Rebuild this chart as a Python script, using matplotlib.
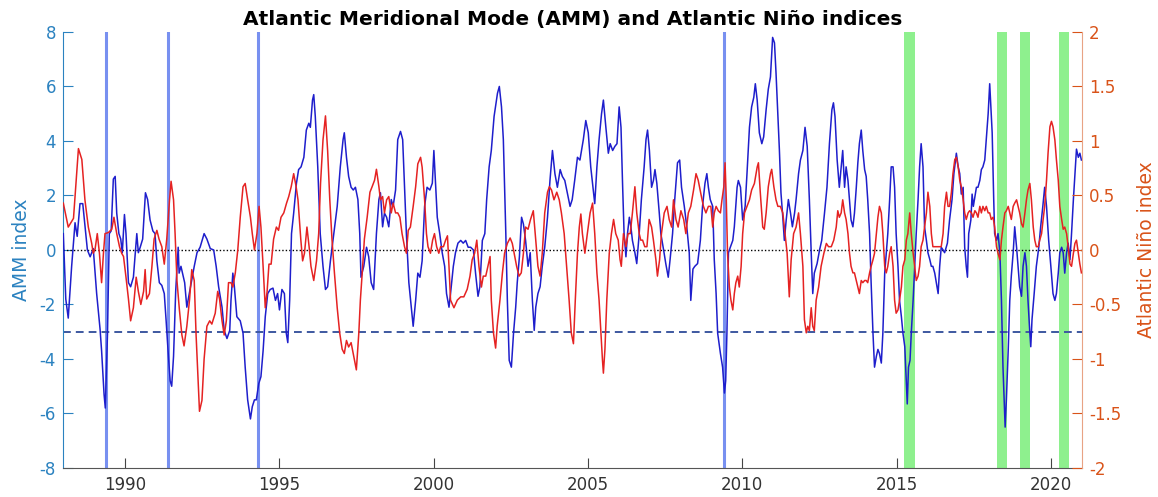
import matplotlib
matplotlib.use("Agg")
import matplotlib.pyplot as plt
import numpy as np

plt.rcParams['axes.unicode_minus'] = False

# AMM index (left axis)
amm_year = [
    1988.01, 1988.09, 1988.17, 1988.28, 1988.39, 1988.46, 1988.55, 1988.64, 1988.79, 1988.88,
    1988.98, 1989.09, 1989.20, 1989.25, 1989.33, 1989.37, 1989.44, 1989.50, 1989.56, 1989.63,
    1989.69, 1989.74, 1989.81, 1989.87, 1989.92, 1989.99, 1990.04, 1990.12, 1990.19, 1990.28,
    1990.39, 1990.44, 1990.50, 1990.58, 1990.67, 1990.74, 1990.82, 1990.91, 1990.98, 1991.04,
    1991.12, 1991.20, 1991.28, 1991.34, 1991.42, 1991.47, 1991.52, 1991.58, 1991.65, 1991.73,
    1991.76, 1991.82, 1991.94, 1992.01, 1992.09, 1992.17, 1992.25, 1992.34, 1992.44, 1992.57,
    1992.66, 1992.77, 1992.88, 1992.96, 1993.04, 1993.15, 1993.22, 1993.31, 1993.40, 1993.44,
    1993.50, 1993.55, 1993.63, 1993.74, 1993.83, 1993.90, 1993.98, 1994.07, 1994.13, 1994.20,
    1994.26, 1994.34, 1994.41, 1994.48, 1994.55, 1994.63, 1994.71, 1994.80, 1994.88, 1994.95,
    1995.01, 1995.09, 1995.17, 1995.23, 1995.28, 1995.34, 1995.40, 1995.47, 1995.56, 1995.63,
    1995.71, 1995.80, 1995.88, 1995.96, 1996.01, 1996.08, 1996.12, 1996.17, 1996.25, 1996.33,
    1996.42, 1996.50, 1996.57, 1996.66, 1996.77, 1996.88, 1996.98, 1997.07, 1997.11, 1997.18,
    1997.25, 1997.33, 1997.40, 1997.47, 1997.55, 1997.61, 1997.65, 1997.74, 1997.83, 1997.90,
    1997.98, 1998.06, 1998.15, 1998.23, 1998.28, 1998.35, 1998.41, 1998.48, 1998.55, 1998.63,
    1998.69, 1998.77, 1998.84, 1998.93, 1999.00, 1999.06, 1999.12, 1999.20, 1999.28, 1999.34,
    1999.42, 1999.49, 1999.56, 1999.63, 1999.71, 1999.79, 1999.88, 1999.96, 2000.01, 2000.06,
    2000.12, 2000.20, 2000.28, 2000.36, 2000.42, 2000.50, 2000.55, 2000.64, 2000.71, 2000.79,
    2000.88, 2000.96, 2001.04, 2001.12, 2001.20, 2001.29, 2001.36, 2001.44, 2001.50, 2001.58,
    2001.66, 2001.72, 2001.80, 2001.87, 2001.96, 2002.07, 2002.13, 2002.20, 2002.26, 2002.34,
    2002.39, 2002.45, 2002.52, 2002.59, 2002.66, 2002.71, 2002.78, 2002.85, 2002.91, 2002.98,
    2003.06, 2003.13, 2003.20, 2003.26, 2003.31, 2003.38, 2003.45, 2003.52, 2003.60, 2003.69,
    2003.77, 2003.85, 2003.93, 2004.01, 2004.10, 2004.17, 2004.25, 2004.33, 2004.42, 2004.49,
    2004.57, 2004.66, 2004.74, 2004.85, 2004.93, 2005.01, 2005.09, 2005.18, 2005.22, 2005.29,
    2005.36, 2005.44, 2005.50, 2005.58, 2005.66, 2005.72, 2005.80, 2005.87, 2005.94, 2006.01,
    2006.07, 2006.12, 2006.17, 2006.23, 2006.28, 2006.34, 2006.39, 2006.44, 2006.52, 2006.58,
    2006.66, 2006.73, 2006.82, 2006.88, 2006.93, 2006.99, 2007.06, 2007.12, 2007.17, 2007.23,
    2007.31, 2007.36, 2007.45, 2007.52, 2007.60, 2007.66, 2007.74, 2007.81, 2007.90, 2007.97,
    2008.03, 2008.12, 2008.20, 2008.28, 2008.33, 2008.40, 2008.46, 2008.55, 2008.64, 2008.71,
    2008.79, 2008.85, 2008.90, 2008.96, 2009.04, 2009.09, 2009.15, 2009.20, 2009.29, 2009.36,
    2009.42, 2009.46, 2009.50, 2009.55, 2009.61, 2009.69, 2009.74, 2009.83, 2009.87, 2009.94,
    2010.01, 2010.09, 2010.15, 2010.23, 2010.30, 2010.37, 2010.42, 2010.48, 2010.55, 2010.63,
    2010.69, 2010.77, 2010.84, 2010.91, 2010.98, 2011.04, 2011.09, 2011.15, 2011.20, 2011.25,
    2011.31, 2011.36, 2011.42, 2011.49, 2011.56, 2011.62, 2011.69, 2011.74, 2011.82, 2011.88,
    2011.96, 2012.03, 2012.10, 2012.17, 2012.23, 2012.28, 2012.33, 2012.42, 2012.50, 2012.57,
    2012.66, 2012.74, 2012.82, 2012.90, 2012.95, 2013.00, 2013.07, 2013.14, 2013.20, 2013.25,
    2013.31, 2013.36, 2013.42, 2013.47, 2013.52, 2013.58, 2013.63, 2013.69, 2013.74, 2013.79,
    2013.85, 2013.90, 2013.96, 2014.01, 2014.06, 2014.12, 2014.17, 2014.23, 2014.28, 2014.34,
    2014.39, 2014.44, 2014.50, 2014.55, 2014.61, 2014.66, 2014.71, 2014.77, 2014.82, 2014.88,
    2014.93, 2014.98, 2015.04, 2015.09, 2015.15, 2015.20, 2015.26, 2015.31, 2015.34, 2015.38,
    2015.43, 2015.47, 2015.53, 2015.58, 2015.63, 2015.69, 2015.74, 2015.79, 2015.85, 2015.90,
    2015.96, 2016.01, 2016.07, 2016.12, 2016.17, 2016.23, 2016.28, 2016.34, 2016.39, 2016.44,
    2016.50, 2016.55, 2016.64, 2016.71, 2016.79, 2016.85, 2016.93, 2016.99, 2017.04, 2017.09,
    2017.15, 2017.20, 2017.25, 2017.29, 2017.33, 2017.40, 2017.44, 2017.48, 2017.53, 2017.58,
    2017.63, 2017.69, 2017.74, 2017.79, 2017.85, 2017.90, 2017.96, 2018.01, 2018.04, 2018.09,
    2018.14, 2018.17, 2018.23, 2018.28, 2018.34, 2018.39, 2018.44, 2018.48, 2018.51, 2018.55,
    2018.61, 2018.66, 2018.71, 2018.77, 2018.82, 2018.88, 2018.93, 2018.98, 2019.04, 2019.09,
    2019.15, 2019.20, 2019.25, 2019.31, 2019.34, 2019.38, 2019.45, 2019.52, 2019.60, 2019.66,
    2019.73, 2019.79, 2019.85, 2019.92, 2019.99, 2020.06, 2020.12, 2020.17, 2020.23, 2020.28,
    2020.34, 2020.39, 2020.44, 2020.50, 2020.55, 2020.61, 2020.66, 2020.72, 2020.77, 2020.82,
    2020.88, 2020.93, 2020.98,
]
amm_index = [
    0.6, -1.8, -2.5, -0.6, 1.0, 0.5, 1.7, 1.7, 0.0, -0.25,
    0.05, -1.6, -2.9, -3.7, -5.3, -5.8, -3.1, 0.6, 0.7, 2.6,
    2.7, 1.35, 0.6, 0.4, -0.1, 1.3, 0.6, -1.2, -1.35, -1.0,
    0.6, -0.1, 0.1, 0.4, 2.1, 1.85, 1.1, 0.7, 0.6, -0.4,
    -1.2, -1.3, -1.6, -2.6, -4.0, -4.8, -5.0, -3.9, -1.5, 0.1,
    -0.85, -0.6, -1.2, -2.1, -1.6, -1.1, -0.6, -0.1, 0.1, 0.6,
    0.4, 0.05, 0.0, -0.6, -1.35, -2.1, -2.95, -3.25, -2.95, -1.85,
    -0.85, -1.35, -2.45, -2.6, -3.05, -4.3, -5.5, -6.2, -5.75, -5.5,
    -5.5, -4.9, -4.65, -3.7, -2.45, -1.6, -1.45, -1.4, -1.85, -1.6,
    -2.2, -1.45, -1.6, -3.05, -3.4, -1.85, 0.6, 1.35, 2.45, 2.95,
    3.05, 3.4, 4.4, 4.65, 4.5, 5.5, 5.7, 4.9, 3.05, 0.6,
    -0.6, -1.45, -1.35, -0.4, 0.6, 1.6, 3.05, 4.05, 4.3, 3.4,
    2.7, 2.3, 2.2, 2.3, 1.85, 0.6, -1.0, -0.6, 0.1, -0.25,
    -1.2, -1.45, 0.6, 1.85, 2.1, 0.85, 1.35, 1.2, 0.85, 1.85,
    1.6, 2.2, 4.05, 4.35, 4.05, 2.3, 0.6, -1.2, -2.1, -2.8,
    -1.85, -0.85, -1.0, -0.4, 1.6, 2.3, 2.2, 2.45, 3.65, 2.55,
    1.2, 0.6, -0.1, -0.6, -1.6, -2.1, -1.6, -0.6, -0.1, 0.25,
    0.35, 0.25, 0.35, 0.1, 0.1, 0.0, -0.85, -1.7, -1.35, 0.35,
    0.6, 1.85, 3.05, 3.65, 4.9, 5.75, 6.0, 5.25, 4.05, 0.6,
    -1.85, -4.05, -4.3, -3.05, -2.1, -1.2, -0.25, 1.2, 0.95, 0.35,
    -0.6, -0.1, -1.85, -2.95, -2.1, -1.6, -1.35, -0.6, 0.1, 1.2,
    2.55, 3.65, 2.8, 2.3, 2.95, 2.7, 2.55, 2.1, 1.6, 1.85,
    2.55, 3.4, 3.3, 4.05, 4.75, 4.3, 3.05, 2.1, 1.7, 3.05,
    4.05, 5.0, 5.5, 4.5, 3.55, 3.9, 3.65, 3.8, 3.9, 5.25,
    4.5, 2.45, 0.6, -0.25, 0.6, 1.2, 0.85, 0.35, -0.1, -0.5,
    0.6, 1.85, 3.05, 4.05, 4.4, 3.65, 2.3, 2.55, 2.95, 2.45,
    1.35, 0.6, 0.0, -0.5, -1.0, -0.35, 0.6, 1.85, 3.2, 3.3,
    2.3, 1.6, 0.85, -0.1, -1.85, -0.7, -0.6, -0.5, 0.35, 1.6,
    2.45, 2.8, 2.3, 1.85, 1.6, -0.35, -1.6, -3.05, -3.8, -4.3,
    -5.25, -4.8, -3.05, -0.1, 0.1, 0.35, 0.85, 2.3, 2.55, 2.3,
    1.1, 1.6, 2.8, 4.5, 5.25, 5.6, 6.1, 5.5, 4.3, 3.9,
    4.15, 5.15, 5.9, 6.35, 7.8, 7.6, 6.5, 4.9, 3.65, 2.1,
    1.2, 0.35, 1.1, 1.85, 1.35, 0.85, 1.35, 1.85, 2.8, 3.3,
    3.65, 4.5, 3.8, 1.85, -0.1, -1.6, -0.85, -0.5, 0.0, 0.35,
    1.35, 2.3, 3.9, 5.15, 5.4, 4.9, 3.3, 2.3, 3.05, 3.65,
    2.3, 3.05, 2.55, 1.85, 1.1, 0.85, 1.35, 2.3, 3.2, 3.9,
    4.4, 3.65, 2.95, 2.7, 1.85, 0.6, -1.2, -3.05, -4.3, -3.9,
    -3.65, -3.8, -4.15, -3.05, -0.85, -0.1, 0.6, 1.85, 3.05, 3.05,
    2.3, 0.6, -0.6, -1.85, -2.45, -3.05, -3.55, -4.9, -5.65, -4.3,
    -4.05, -3.05, -1.85, -0.6, 0.6, 1.85, 3.05, 3.9, 3.05, 0.85,
    0.35, -0.1, -0.35, -0.6, -0.6, -0.85, -1.2, -1.6, -0.6, 0.1,
    0.0, -0.1, 0.25, 1.1, 1.85, 2.8, 3.55, 3.05, 2.8, 2.05,
    2.3, 0.1, -0.6, -1.0, 0.6, 1.1, 2.05, 1.6, 1.95, 2.3,
    2.3, 2.55, 2.95, 3.05, 3.3, 4.05, 5.0, 6.1, 5.4, 4.3,
    1.85, 0.6, 0.35, 0.6, -0.1, -1.85, -4.3, -5.5, -6.5, -5.5,
    -3.65, -1.85, -0.95, -0.1, 0.85, 0.1, -0.6, -1.35, -1.7, -0.6,
    -0.1, -0.6, -1.85, -3.05, -3.55, -2.55, -1.6, -0.6, 0.1, 0.85,
    1.6, 2.3, 1.6, 0.35, -0.6, -1.6, -1.85, -1.6, -0.85, -0.1,
    0.1, -0.1, -0.85, -0.1, 0.25, -0.35, 0.6, 1.85, 2.8, 3.7,
    3.4, 3.55, 3.3,
]

# Atlantic Nino index (right axis)
nino_year = [
    1988.01, 1988.17, 1988.34, 1988.50, 1988.61, 1988.71, 1988.82, 1988.93, 1988.98, 1989.04,
    1989.11, 1989.18, 1989.25, 1989.31, 1989.36, 1989.47, 1989.58, 1989.65, 1989.74, 1989.83,
    1989.90, 1989.96, 1990.04, 1990.12, 1990.19, 1990.28, 1990.37, 1990.44, 1990.52, 1990.61,
    1990.66, 1990.71, 1990.80, 1990.88, 1990.95, 1991.04, 1991.11, 1991.20, 1991.28, 1991.36,
    1991.45, 1991.50, 1991.58, 1991.63, 1991.69, 1991.77, 1991.85, 1991.92, 1992.01, 1992.10,
    1992.17, 1992.25, 1992.31, 1992.42, 1992.50, 1992.57, 1992.66, 1992.75, 1992.82, 1992.93,
    1993.01, 1993.07, 1993.15, 1993.22, 1993.29, 1993.36, 1993.44, 1993.50, 1993.58, 1993.66,
    1993.74, 1993.83, 1993.90, 1993.98, 1994.07, 1994.13, 1994.20, 1994.28, 1994.35, 1994.41,
    1994.48, 1994.55, 1994.61, 1994.67, 1994.74, 1994.82, 1994.91, 1994.98, 1995.06, 1995.15,
    1995.24, 1995.31, 1995.39, 1995.47, 1995.55, 1995.61, 1995.70, 1995.76, 1995.82, 1995.90,
    1995.97, 1996.03, 1996.12, 1996.21, 1996.28, 1996.34, 1996.42, 1996.50, 1996.57, 1996.64,
    1996.71, 1996.79, 1996.88, 1996.96, 1997.04, 1997.11, 1997.18, 1997.25, 1997.33, 1997.42,
    1997.50, 1997.58, 1997.63, 1997.69, 1997.76, 1997.85, 1997.94, 1998.01, 1998.09, 1998.15,
    1998.23, 1998.28, 1998.35, 1998.41, 1998.48, 1998.55, 1998.63, 1998.69, 1998.77, 1998.84,
    1998.91, 1998.98, 1999.06, 1999.12, 1999.18, 1999.25, 1999.34, 1999.42, 1999.49, 1999.58,
    1999.63, 1999.71, 1999.77, 1999.82, 1999.90, 1999.97, 2000.03, 2000.10, 2000.17, 2000.23,
    2000.32, 2000.39, 2000.45, 2000.50, 2000.55, 2000.66, 2000.77, 2000.88, 2000.98, 2001.09,
    2001.18, 2001.25, 2001.33, 2001.40, 2001.47, 2001.55, 2001.61, 2001.69, 2001.76, 2001.83,
    2001.87, 2001.94, 2002.01, 2002.06, 2002.15, 2002.23, 2002.30, 2002.39, 2002.48, 2002.55,
    2002.63, 2002.69, 2002.77, 2002.84, 2002.91, 2002.98, 2003.06, 2003.14, 2003.23, 2003.31,
    2003.38, 2003.45, 2003.52, 2003.60, 2003.69, 2003.75, 2003.82, 2003.90, 2003.99, 2004.07,
    2004.14, 2004.23, 2004.31, 2004.39, 2004.46, 2004.53, 2004.59, 2004.66, 2004.72, 2004.77,
    2004.82, 2004.90, 2004.98, 2005.07, 2005.15, 2005.22, 2005.29, 2005.36, 2005.42, 2005.47,
    2005.50, 2005.55, 2005.61, 2005.69, 2005.76, 2005.83, 2005.90, 2005.98, 2006.04, 2006.08,
    2006.15, 2006.23, 2006.30, 2006.37, 2006.44, 2006.52, 2006.58, 2006.66, 2006.71, 2006.77,
    2006.84, 2006.91, 2006.98, 2007.06, 2007.12, 2007.20, 2007.25, 2007.32, 2007.38, 2007.47,
    2007.56, 2007.63, 2007.71, 2007.77, 2007.85, 2007.92, 2008.01, 2008.10, 2008.17, 2008.25,
    2008.33, 2008.42, 2008.50, 2008.57, 2008.66, 2008.74, 2008.82, 2008.90, 2008.98, 2009.04,
    2009.09, 2009.15, 2009.22, 2009.29, 2009.34, 2009.40, 2009.44, 2009.48, 2009.52, 2009.58,
    2009.63, 2009.69, 2009.74, 2009.79, 2009.85, 2009.90, 2009.96, 2010.01, 2010.07, 2010.15,
    2010.23, 2010.30, 2010.39, 2010.48, 2010.52, 2010.58, 2010.66, 2010.71, 2010.77, 2010.84,
    2010.91, 2010.95, 2011.02, 2011.09, 2011.15, 2011.23, 2011.31, 2011.36, 2011.45, 2011.52,
    2011.58, 2011.66, 2011.74, 2011.82, 2011.88, 2011.96, 2012.01, 2012.07, 2012.12, 2012.17,
    2012.23, 2012.28, 2012.33, 2012.39, 2012.47, 2012.55, 2012.64, 2012.72, 2012.79, 2012.88,
    2012.96, 2013.04, 2013.09, 2013.14, 2013.20, 2013.25, 2013.31, 2013.36, 2013.42, 2013.47,
    2013.52, 2013.58, 2013.63, 2013.69, 2013.74, 2013.79, 2013.85, 2013.90, 2013.96, 2014.01,
    2014.06, 2014.12, 2014.17, 2014.23, 2014.28, 2014.34, 2014.39, 2014.44, 2014.50, 2014.55,
    2014.61, 2014.66, 2014.71, 2014.77, 2014.82, 2014.88, 2014.93, 2014.98, 2015.04, 2015.09,
    2015.15, 2015.20, 2015.26, 2015.31, 2015.36, 2015.42, 2015.47, 2015.53, 2015.58, 2015.63,
    2015.69, 2015.74, 2015.79, 2015.85, 2015.90, 2015.96, 2016.01, 2016.07, 2016.12, 2016.17,
    2016.23, 2016.34, 2016.44, 2016.50, 2016.55, 2016.61, 2016.66, 2016.71, 2016.77, 2016.82,
    2016.88, 2016.93, 2016.99, 2017.04, 2017.09, 2017.15, 2017.20, 2017.25, 2017.31, 2017.36,
    2017.42, 2017.47, 2017.53, 2017.58, 2017.63, 2017.69, 2017.74, 2017.79, 2017.85, 2017.90,
    2017.96, 2018.01, 2018.06, 2018.12, 2018.17, 2018.23, 2018.28, 2018.34, 2018.39, 2018.44,
    2018.50, 2018.55, 2018.61, 2018.66, 2018.71, 2018.77, 2018.82, 2018.88, 2018.93, 2018.98,
    2019.04, 2019.09, 2019.15, 2019.20, 2019.25, 2019.31, 2019.36, 2019.42, 2019.47, 2019.52,
    2019.58, 2019.63, 2019.69, 2019.74, 2019.79, 2019.85, 2019.90, 2019.96, 2020.01, 2020.06,
    2020.12, 2020.17, 2020.23, 2020.28, 2020.34, 2020.39, 2020.44, 2020.50, 2020.55, 2020.61,
    2020.66, 2020.72, 2020.77, 2020.82, 2020.88, 2020.93, 2020.98,
]
nino_index = [
    0.43, 0.21, 0.29, 0.93, 0.83, 0.46, 0.21, 0.06, -0.03, 0.01,
    0.15, -0.03, -0.30, -0.03, 0.15, 0.16, 0.19, 0.30, 0.15, 0.03,
    -0.03, -0.06, -0.25, -0.45, -0.65, -0.53, -0.25, -0.38, -0.50, -0.38,
    -0.18, -0.45, -0.40, -0.15, 0.10, 0.18, 0.10, 0.03, -0.13, 0.10,
    0.46, 0.63, 0.46, 0.15, -0.28, -0.55, -0.78, -0.88, -0.70, -0.45,
    -0.18, -0.28, -0.78, -1.48, -1.38, -1.00, -0.70, -0.65, -0.68, -0.58,
    -0.38, -0.45, -0.65, -0.78, -0.65, -0.30, -0.30, -0.34, -0.21, 0.00,
    0.30, 0.58, 0.61, 0.46, 0.30, 0.15, 0.00, 0.15, 0.40, 0.21,
    -0.15, -0.53, -0.38, -0.13, -0.13, 0.10, 0.21, 0.18, 0.30, 0.34,
    0.43, 0.49, 0.58, 0.70, 0.58, 0.46, 0.10, -0.10, -0.03, 0.21,
    0.03, -0.15, -0.28, -0.10, 0.15, 0.61, 1.01, 1.23, 0.91, 0.46,
    0.10, -0.21, -0.53, -0.76, -0.91, -0.95, -0.83, -0.89, -0.85, -0.98,
    -1.10, -0.76, -0.46, -0.21, 0.10, 0.30, 0.53, 0.58, 0.64, 0.74,
    0.58, 0.46, 0.49, 0.34, 0.46, 0.49, 0.34, 0.43, 0.34, 0.34,
    0.30, 0.15, 0.03, -0.03, 0.18, 0.21, 0.40, 0.58, 0.79, 0.85,
    0.76, 0.46, 0.15, 0.03, -0.03, 0.09, 0.15, 0.03, -0.03, 0.03,
    0.03, 0.09, 0.13, -0.15, -0.46, -0.53, -0.46, -0.43, -0.43, -0.36,
    -0.24, -0.09, -0.03, 0.09, -0.15, -0.34, -0.24, -0.24, -0.15, -0.06,
    -0.46, -0.76, -0.90, -0.70, -0.46, -0.21, -0.03, 0.06, 0.11, 0.06,
    -0.06, -0.15, -0.24, -0.21, -0.03, 0.21, 0.19, 0.28, 0.36, 0.09,
    -0.15, -0.24, -0.03, 0.34, 0.53, 0.58, 0.55, 0.46, 0.53, 0.46,
    0.34, 0.15, -0.15, -0.46, -0.76, -0.86, -0.46, -0.03, 0.21, 0.33,
    0.15, -0.03, 0.15, 0.34, 0.43, 0.15, -0.21, -0.46, -0.76, -1.01,
    -1.13, -0.91, -0.46, -0.03, 0.15, 0.28, 0.15, 0.09, -0.09, -0.15,
    0.15, 0.03, 0.15, 0.15, 0.34, 0.58, 0.34, 0.15, 0.09, 0.09,
    0.03, 0.03, 0.28, 0.21, 0.09, -0.09, -0.24, -0.09, 0.15, 0.34,
    0.40, 0.28, 0.21, 0.46, 0.28, 0.21, 0.36, 0.28, 0.15, 0.34,
    0.40, 0.55, 0.70, 0.64, 0.51, 0.40, 0.34, 0.40, 0.40, 0.21,
    0.34, 0.40, 0.36, 0.34, 0.46, 0.58, 0.80, 0.46, -0.03, -0.34,
    -0.46, -0.55, -0.40, -0.30, -0.24, -0.34, -0.15, 0.15, 0.34, 0.40,
    0.46, 0.55, 0.61, 0.76, 0.80, 0.53, 0.21, 0.19, 0.34, 0.58,
    0.70, 0.74, 0.58, 0.46, 0.40, 0.40, 0.34, 0.21, -0.03, -0.43,
    -0.09, 0.15, 0.21, 0.34, 0.15, -0.15, -0.64, -0.76, -0.70, -0.74,
    -0.53, -0.70, -0.74, -0.46, -0.34, -0.15, -0.03, 0.06, 0.03, 0.03,
    0.09, 0.21, 0.36, 0.30, 0.34, 0.46, 0.34, 0.28, 0.15, -0.03,
    -0.15, -0.21, -0.21, -0.28, -0.34, -0.40, -0.28, -0.30, -0.28, -0.28,
    -0.30, -0.21, -0.15, -0.09, -0.03, 0.15, 0.30, 0.40, 0.34, 0.15,
    -0.15, -0.21, -0.15, -0.03, 0.03, -0.15, -0.46, -0.58, -0.55, -0.46,
    -0.34, -0.15, -0.09, 0.09, 0.15, 0.34, 0.15, -0.03, -0.15, -0.28,
    -0.24, -0.15, 0.03, 0.09, 0.21, 0.34, 0.53, 0.40, 0.15, 0.03,
    0.03, 0.03, 0.03, 0.15, 0.40, 0.53, 0.40, 0.40, 0.53, 0.70,
    0.83, 0.85, 0.76, 0.64, 0.58, 0.46, 0.34, 0.28, 0.34, 0.36,
    0.34, 0.30, 0.36, 0.34, 0.30, 0.40, 0.34, 0.40, 0.36, 0.40,
    0.34, 0.34, 0.28, 0.30, 0.21, 0.03, -0.03, -0.09, 0.09, 0.21,
    0.34, 0.36, 0.40, 0.34, 0.28, 0.40, 0.43, 0.46, 0.40, 0.34,
    0.24, 0.21, 0.34, 0.46, 0.55, 0.61, 0.46, 0.21, 0.09, 0.03,
    0.03, 0.09, 0.15, 0.28, 0.40, 0.64, 0.89, 1.13, 1.18, 1.13,
    1.01, 0.83, 0.64, 0.40, 0.28, 0.19, 0.21, 0.15, 0.03, -0.13,
    -0.15, -0.03, 0.06, 0.09, -0.03, -0.13, -0.21,
]

# marked events: single months (blue lines) and short periods (green bands)
event_years = [1989.4, 1991.4, 1994.33, 2009.42]
band_starts = [2015.25, 2018.25, 2019.0, 2020.25]
band_ends = [2015.58, 2018.58, 2019.33, 2020.58]

amm_threshold = -3

left_color = '#2b82c0'
right_color = '#d95319'

fig = plt.figure(figsize=(11.58, 4.97), dpi=100)
ax = fig.add_axes([0.0544, 0.0584, 0.880, 0.8773])

for yr in event_years:
    ax.axvline(yr, color='#7890f0', lw=2.2, zorder=1)
for s, e in zip(band_starts, band_ends):
    ax.axvspan(s, e, color='#8ef08e', lw=0, zorder=1)

ax.axhline(0, color='black', lw=1.0, ls=(0, (1, 1.5)), zorder=2)
ax.axhline(amm_threshold, color='#3d58a0', lw=1.4, ls=(0, (4, 2.6)), zorder=2)
ax.plot(amm_year, amm_index, color='#1e1ecc', lw=1.1, zorder=3)

ax2 = ax.twinx()
ax2.plot(nino_year, nino_index, color='#e52222', lw=1.1)

ax.set_xlim(1988, 2021)
ax.set_ylim(-8, 8)
ax2.set_ylim(-2, 2)
ax.set_xticks([1990, 1995, 2000, 2005, 2010, 2015, 2020])
ax.set_yticks(np.arange(-8, 9, 2))
ax2.set_yticks([-2, -1.5, -1, -0.5, 0, 0.5, 1, 1.5, 2])
ax2.set_yticklabels(['-2', '-1.5', '-1', '-0.5', '0', '0.5', '1', '1.5', '2'])

ax.tick_params(axis='x', direction='in', length=7, width=0.8, colors='#444444',
               labelsize=12, pad=6, labelcolor='#333333')
ax.tick_params(axis='y', direction='in', length=7, width=0.8, colors=left_color,
               labelsize=12, pad=5)
ax2.tick_params(axis='y', direction='in', length=7, width=0.8, colors=right_color,
                labelsize=12, pad=5)

for a in (ax, ax2):
    a.spines['top'].set_visible(False)
ax.spines['right'].set_visible(False)
ax.spines['left'].set_color(left_color)
ax.spines['bottom'].set_color('#555555')
ax2.spines['left'].set_visible(False)
ax2.spines['bottom'].set_visible(False)
ax2.spines['right'].set_color('#e8a384')

ax.set_ylabel('AMM index', color=left_color, fontsize=13.5)
ax.yaxis.set_label_coords(-0.031, 0.5)
ax2.set_ylabel('Atlantic Niño index', color=right_color, fontsize=13.5)
ax2.yaxis.set_label_coords(1.054, 0.5)

ax.set_title('Atlantic Meridional Mode (AMM) and Atlantic Niño indices',
             fontsize=14.5, fontweight='bold', pad=5)

fig.savefig('out.png', dpi=100)
